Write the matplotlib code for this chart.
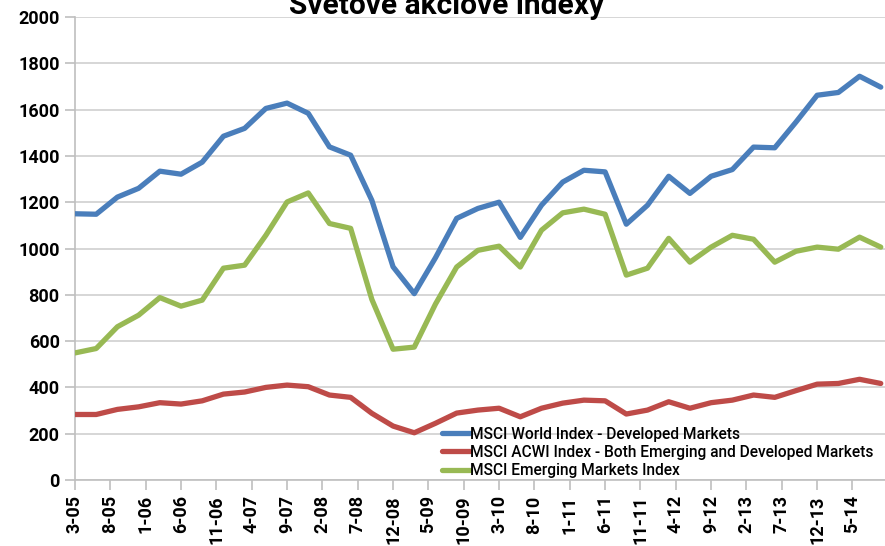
"""
Svetove akciove indexy - MSCI world, ACWI and emerging markets
"""

import matplotlib

matplotlib.use("Agg")
import matplotlib.pyplot as plt
import numpy as np
import pandas as pd

# quarterly observations, 3-05 .. 9-14
dates = pd.date_range("2005-03-01", "2014-09-01", freq="3MS")

world = [
    1150, 1148, 1222, 1260, 1334, 1321, 1373, 1485, 1519, 1605,
    1628, 1584, 1439, 1403, 1208, 921, 805, 960, 1130, 1173,
    1200, 1048, 1187, 1287, 1338, 1331, 1105, 1187, 1312, 1238,
    1312, 1341, 1438, 1435, 1546, 1662, 1674, 1744, 1697,
]
acwi = [
    283, 283, 305, 316, 334, 328, 342, 371, 380, 400,
    410, 403, 367, 357, 288, 233, 204, 245, 289, 302,
    310, 273, 310, 332, 345, 342, 285, 302, 338, 310,
    334, 345, 367, 357, 386, 414, 417, 435, 417,
]
emerging = [
    549, 568, 662, 712, 788, 751, 777, 915, 928, 1057,
    1201, 1240, 1108, 1087, 780, 565, 574, 760, 920, 992,
    1010, 920, 1079, 1154, 1170, 1148, 885, 915, 1044, 941,
    1006, 1057, 1040, 941, 988, 1006, 997, 1049, 1006,
]

tick_labels = [
    "3-05", "8-05", "1-06", "6-06", "11-06", "4-07", "9-07", "2-08",
    "7-08", "12-08", "5-09", "10-09", "3-10", "8-10", "1-11", "6-11",
    "11-11", "4-12", "9-12", "2-13", "7-13", "12-13", "5-14",
]

series_names = [
    "MSCI World Index - Developed Markets",
    "MSCI ACWI Index - Both Emerging and Developed Markets",
    "MSCI Emerging Markets Index",
]
colors = ["#4A7EBB", "#BE4B48", "#98B954"]


def month_index(year, month):
    return (year - 2005) * 12 + (month - 3)


x = np.array([month_index(d.year, d.month) for d in dates])
tick_pos = []
for lab in tick_labels:
    mo, yr = lab.split("-")
    tick_pos.append(month_index(2000 + int(yr), int(mo)))

plt.rcParams["font.family"] = ["Roboto", "DejaVu Sans"]

fig = plt.figure(figsize=(8.85, 5.46), dpi=100)
ax = fig.add_axes([75 / 885, 1 - 480 / 546, 1 - 75 / 885, 463 / 546])

for vals, name, col in zip([world, acwi, emerging], series_names, colors):
    ax.plot(x, vals, color=col, lw=3.8, label=name, solid_joinstyle="round",
            solid_capstyle="round", zorder=3)

ax.set_xlim(0, 114.6)
ax.set_ylim(0, 2000)
ax.set_yticks(np.arange(0, 2001, 200))
ax.set_xticks(tick_pos)
ax.set_xticklabels(tick_labels, rotation=90, fontsize=13, fontweight="bold")
for t in ax.get_yticklabels():
    t.set_fontsize(13)
    t.set_fontweight("bold")

ax.grid(axis="y", color="#D0D0D0", lw=1.2)
ax.set_axisbelow(True)
for s in ["top", "right"]:
    ax.spines[s].set_visible(False)
ax.spines["left"].set_color("#BFBFBF")
ax.spines["bottom"].set_color("#BFBFBF")
ax.spines["left"].set_linewidth(1.2)
ax.spines["bottom"].set_linewidth(1.2)
ax.tick_params(axis="both", color="#BFBFBF", length=7, width=1.2, pad=4)

ax.legend(
    loc="lower left",
    bbox_to_anchor=(442 / 885, (546 - 478) / 546),
    bbox_transform=fig.transFigure,
    frameon=False,
    prop={"size": 11.2, "weight": "medium"},
    handlelength=1.8,
    handletextpad=0.0,
    labelspacing=0.2,
    borderaxespad=0,
    borderpad=0,
)

fig.text(0.505, 1 - 14 / 546, "Svetové akciové indexy", ha="center",
         va="baseline", fontsize=21.5, fontweight="bold")

fig.savefig("out.png", dpi=100)
